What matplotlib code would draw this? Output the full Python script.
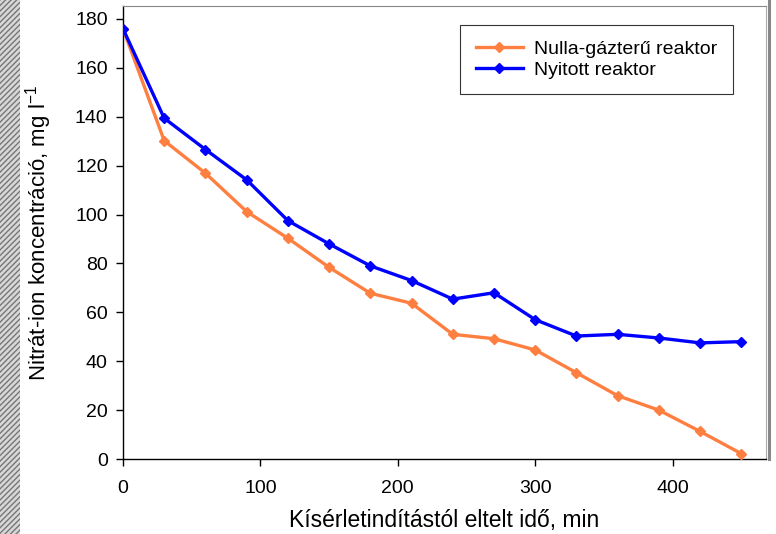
import matplotlib
matplotlib.use("Agg")
import matplotlib.pyplot as plt
from matplotlib.patches import Rectangle
from matplotlib.lines import Line2D

plt.rcParams['font.family'] = ['Liberation Sans', 'DejaVu Sans']
plt.rcParams['mathtext.fontset'] = 'custom'
plt.rcParams['mathtext.rm'] = 'Liberation Sans'
plt.rcParams['mathtext.it'] = 'Liberation Sans'
plt.rcParams['mathtext.default'] = 'rm'

time_min = [0, 30, 60, 90, 120, 150, 180, 210, 240, 270, 300, 330, 360, 390, 420, 450]
nulla = [176, 130.2, 116.9, 101.2, 90.3, 78.4, 67.8, 63.7, 51, 49.2, 44.6, 35.3, 25.9, 20, 11.3, 2.2]
nyitott = [176, 139.4, 126.6, 114.2, 97.5, 88, 79, 73, 65.4, 68, 57, 50.3, 51, 49.5, 47.5, 48]
xticks = [0, 100, 200, 300, 400]
yticks = [0, 20, 40, 60, 80, 100, 120, 140, 160, 180]

fig = plt.figure(figsize=(7.76, 5.34), dpi=100)
ax = fig.add_axes([123/776, 75/534, (766-123)/776, (459-6)/534])

ax.plot(time_min, nulla, color='#FF7F40', lw=2.4, marker='D', ms=5.5,
        label='Nulla-gázterű reaktor', zorder=3)
ax.plot(time_min, nyitott, color='#0000FF', lw=2.4, marker='D', ms=5.5,
        label='Nyitott reaktor', zorder=3)

ax.set_xlim(0, 468)
ax.set_ylim(0, 185.3)
ax.set_xticks(xticks)
ax.set_yticks(yticks)
ax.tick_params(direction='out', length=5, width=1, labelsize=14)
ax.tick_params(axis='x', pad=10)
ax.tick_params(axis='y', pad=6)

for s in ['left', 'bottom']:
    ax.spines[s].set_linewidth(1.0)
    ax.spines[s].set_color('black')
ax.spines['top'].set_color('#888888')
ax.spines['top'].set_linewidth(0.8)
ax.spines['right'].set_color('#aaaaaa')
ax.spines['right'].set_linewidth(0.8)

# shadow line right of plot
fig.add_artist(Line2D([769/776, 769/776], [75/534, 1.0], color='#888888', lw=2.2))

ax.set_xlabel('Kísérletindítástól eltelt idő, min', fontsize=16.5, labelpad=9)
ax.set_ylabel('Nitrát-ion koncentráció, mg l$^{-1}$', fontsize=16, labelpad=15)

leg = ax.legend(loc='upper right', bbox_to_anchor=((733-123)/643, (459-25)/453),
                fontsize=14, frameon=True, fancybox=False, edgecolor='black',
                handlelength=2.4, borderpad=0.8, labelspacing=0.15,
                handletextpad=0.6, borderaxespad=0)
leg.get_frame().set_linewidth(0.8)

# hatched strip on the left
fig.add_artist(Rectangle((0, 0), 20/776, 1, transform=fig.transFigure,
                         facecolor='#d8d8d8', edgecolor='#777777', hatch='//////',
                         lw=0))

fig.savefig('out.png', dpi=100)
